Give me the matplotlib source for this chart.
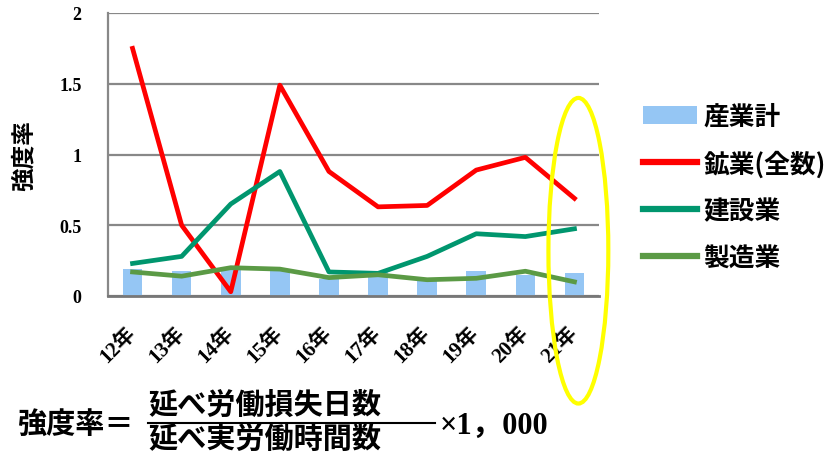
import numpy as np
import matplotlib.pyplot as plt
from matplotlib.patches import Ellipse, Patch
from matplotlib.lines import Line2D

plt.rcParams['font.family'] = ['Liberation Serif', 'Noto Sans CJK JP']
plt.rcParams['font.weight'] = 'bold'

years = ['12年', '13年', '14年', '15年', '16年', '17年', '18年', '19年', '20年', '21年']
total = [0.19, 0.18, 0.20, 0.18, 0.12, 0.18, 0.12, 0.18, 0.15, 0.16]
mining = [1.75, 0.50, 0.03, 1.49, 0.88, 0.63, 0.64, 0.89, 0.98, 0.69]
construction = [0.23, 0.28, 0.65, 0.88, 0.17, 0.16, 0.28, 0.44, 0.42, 0.475]
manufacturing = [0.17, 0.14, 0.20, 0.19, 0.13, 0.15, 0.115, 0.125, 0.175, 0.10]
labels = ['産業計', '鉱業(全数)', '建設業', '製造業']

c_bar = '#95c6f4'
c_red = '#ff0000'
c_teal = '#00966e'
c_green = '#5b9a45'

fig = plt.figure(figsize=(8.27, 4.56), dpi=100)
fig.patch.set_facecolor('white')
ax = fig.add_axes([108/827, 1 - 297/456, 491/827, 283/456])

x = np.arange(len(years))
ax.bar(x, total, width=0.4, color=c_bar, zorder=2)
ax.plot(x, mining, color=c_red, lw=3.4, zorder=3)
ax.plot(x, construction, color=c_teal, lw=3.4, zorder=3)
ax.plot(x, manufacturing, color=c_green, lw=3.4, zorder=3)

ax.set_xlim(-0.5, len(years) - 0.5)
ax.set_ylim(0, 2)
ax.set_yticks([0, 0.5, 1, 1.5, 2])
ax.set_yticklabels(['0', '0.5', '1', '1.5', '2'])
ax.grid(axis='y', color='#888888', lw=1.6, zorder=1)
ax.set_axisbelow(True)
for s in ['top', 'right']:
    ax.spines[s].set_visible(False)
ax.spines['left'].set_color('#888888')
ax.spines['left'].set_linewidth(1.6)
ax.spines['bottom'].set_color('#777777')
ax.spines['bottom'].set_linewidth(2)
ax.tick_params(axis='y', length=0, pad=19, labelsize=13)
ax.set_xticks(x)
ax.set_xticklabels(years, rotation=45, ha='right', va='center',
                   rotation_mode='anchor', fontsize=15)
ax.tick_params(axis='x', length=0, pad=24)
ax.set_ylabel('強度率', fontsize=17, fontweight='bold', labelpad=17,
              family=['Noto Sans CJK JP'])

# highlight the last year
ell = Ellipse((len(years) - 1 + 0.08, 0.32), 1.22, 2.16, fill=False,
              edgecolor='#ffff00', lw=3, clip_on=False, zorder=5)
ax.add_patch(ell)

handles = [Patch(facecolor=c_bar, edgecolor='none'),
           Line2D([], [], color=c_red, lw=4.5),
           Line2D([], [], color=c_teal, lw=4.5),
           Line2D([], [], color=c_green, lw=4.5)]
fig.legend(handles, labels, loc='center left', bbox_to_anchor=(630/827, 1 - 188/456),
           frameon=False, borderpad=0, handlelength=2.1, handletextpad=0.25,
           labelspacing=0.78, prop={'family': ['Noto Sans CJK JP'], 'weight': 'bold', 'size': 18.5})

# formula
jp = ['Liberation Serif', 'Noto Sans CJK JP']
fig.text(18/827, 1 - 426/456, '強度率＝', fontsize=21, va='center', ha='left', family=jp)
fig.text(265/827, 1 - 406/456, '延べ労働損失日数', fontsize=21, va='center', ha='center', family=jp)
fig.text(265/827, 1 - 440/456, '延べ実労働時間数', fontsize=21, va='center', ha='center', family=jp)
fig.add_artist(Line2D([148/827, 435/827], [1 - 424/456, 1 - 424/456], color='black', lw=1.5))
fig.text(440/827, 1 - 426/456, '×1，000', fontsize=22, va='center', ha='left', family=jp)

fig.savefig('out.png', dpi=100)
